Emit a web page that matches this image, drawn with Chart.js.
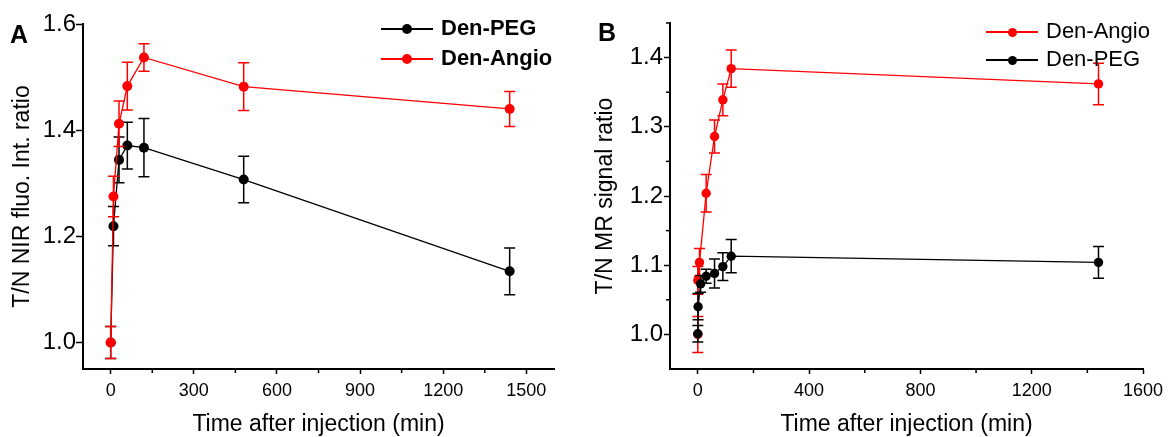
<!DOCTYPE html>
<html>
<head>
<meta charset="utf-8">
<script src="https://cdn.jsdelivr.net/npm/chart.js@4.4.1/dist/chart.umd.min.js"></script>
<style>
  body { margin:0; background:#fff; width:1170px; height:437px; position:relative; overflow:hidden; font-family:"Liberation Sans", Arial, sans-serif; color:#000; }
  canvas { position:absolute; top:0; }
  .panel { position:absolute; font-weight:bold; font-size:25px; line-height:1; }
  .leg { position:absolute; white-space:nowrap; font-size:22px; line-height:1; }
  .leg .ln { position:absolute; height:1.4px; top:-0.7px; }
  .leg .dot { position:absolute; border-radius:50%; }
  .leg .tx { position:absolute; top:-12px; }
</style>
</head>
<body>
<canvas id="chartA" width="585" height="437" style="left:0"></canvas>
<canvas id="chartB" width="585" height="437" style="left:585px"></canvas>
<div class="panel" style="left:10px;top:22px">A</div>
<div class="panel" style="left:598px;top:20px">B</div>
<div id="legA"></div>
<div id="legB"></div>
<script>
// panel A: NIR fluorescence
const timeA = [0, 10, 30, 60, 120, 480, 1440];
const pegA = [1.0, 1.219, 1.344, 1.371, 1.367, 1.307, 1.134];
const pegErrA = [0.03, 0.037, 0.043, 0.044, 0.055, 0.044, 0.044];
const angioA = [1.0, 1.275, 1.412, 1.483, 1.537, 1.482, 1.440];
const angioErrA = [0.03, 0.038, 0.043, 0.045, 0.026, 0.045, 0.033];
const xTicksA = [0, 300, 600, 900, 1200, 1500];
const xMinorA = [150, 450, 750, 1050, 1350];
const yTicksA = [1.0, 1.2, 1.4, 1.6];

// panel B: MR signal
const timePegB = [0, 1, 10, 30, 60, 90, 120, 1440];
const pegB = [1.001, 1.040, 1.073, 1.084, 1.088, 1.098, 1.113, 1.104];
const pegErrB = [0.012, 0.019, 0.012, 0.010, 0.021, 0.020, 0.024, 0.023];
const timeAngioB = [0, 0, 6, 30, 60, 90, 120, 1440];
const angioB = [1.0, 1.078, 1.104, 1.204, 1.286, 1.339, 1.384, 1.362];
const angioErrB = [0.026, 0.02, 0.02, 0.027, 0.024, 0.023, 0.027, 0.03];
const xTicksB = [0, 400, 800, 1200, 1600];
const xMinorB = [200, 600, 1000, 1400];
const yTicksB = [1.0, 1.1, 1.2, 1.3, 1.4];
const yMinorB = [1.05, 1.15, 1.25, 1.35, 1.45];

const RED = '#ff0000', BLACK = '#000000';
const FONT = '"Liberation Sans", Arial, sans-serif';

const pts = (xs, ys) => xs.map((x, i) => ({ x: x, y: ys[i] }));

const errorBars = {
  id: 'errorBars',
  beforeDatasetDraw(chart, args) {
    const ds = chart.data.datasets[args.index];
    if (!ds.err) return;
    const { ctx, scales: { x, y } } = chart;
    ctx.save();
    ctx.strokeStyle = ds.borderColor;
    ctx.lineWidth = 1.5;
    ds.data.forEach((p, i) => {
      const px = x.getPixelForValue(p.x);
      const top = y.getPixelForValue(p.y + ds.err[i]);
      const bot = y.getPixelForValue(p.y - ds.err[i]);
      ctx.beginPath();
      ctx.moveTo(px, top); ctx.lineTo(px, bot);
      ctx.moveTo(px - 5.5, top); ctx.lineTo(px + 5.5, top);
      ctx.moveTo(px - 5.5, bot); ctx.lineTo(px + 5.5, bot);
      ctx.stroke();
    });
    ctx.restore();
  }
};

const minorTicks = {
  id: 'minorTicks',
  afterDraw(chart, args, opts) {
    const { ctx, scales: { x, y } } = chart;
    ctx.save();
    ctx.strokeStyle = '#000';
    ctx.lineWidth = 1.5;
    (opts.x || []).forEach(v => {
      const px = x.getPixelForValue(v);
      ctx.beginPath(); ctx.moveTo(px, y.bottom); ctx.lineTo(px, y.bottom + 4); ctx.stroke();
    });
    (opts.y || []).forEach(v => {
      const py = y.getPixelForValue(v);
      ctx.beginPath(); ctx.moveTo(x.left, py); ctx.lineTo(x.left - 4, py); ctx.stroke();
    });
    ctx.restore();
  }
};

function series(label, color, xs, ys, errs, r) {
  return {
    label, data: pts(xs, ys), err: errs,
    borderColor: color, backgroundColor: color,
    borderWidth: 1.3, tension: 0,
    pointRadius: r, pointHoverRadius: r, pointBorderWidth: 0,
    pointBackgroundColor: color
  };
}

function makeChart(id, datasets, cfg) {
  return new Chart(document.getElementById(id), {
    type: 'line',
    data: { datasets },
    plugins: [errorBars, minorTicks],
    options: {
      responsive: false, animation: false, devicePixelRatio: 1,
      layout: { padding: { left: 0, top: cfg.top, right: cfg.right, bottom: 0 } },
      plugins: {
        legend: { display: false }, tooltip: { enabled: false },
        minorTicks: { x: cfg.xMinor, y: cfg.yMinor }
      },
      scales: {
        x: {
          type: 'linear', min: cfg.xMin, max: cfg.xMax,
          afterBuildTicks: s => { s.ticks = cfg.xTicks.map(v => ({ value: v })); },
          afterFit: s => { s.height = 68; },
          border: { color: '#000', width: 2 },
          grid: { drawOnChartArea: false, tickLength: 5, tickWidth: 1.5, tickColor: '#000' },
          ticks: { color: '#000', font: { family: FONT, size: 18 }, padding: 6, maxRotation: 0, autoSkip: false,
                   callback: v => String(v) },
          title: { display: true, text: 'Time after injection (min)', color: '#000',
                   font: { family: FONT, size: 23, lineHeight: 1.1 }, padding: { top: 0, bottom: 0 } }
        },
        y: {
          type: 'linear', min: cfg.yMin, max: cfg.yMax,
          afterBuildTicks: s => { s.ticks = cfg.yTicks.map(v => ({ value: v })); },
          afterFit: s => { s.width = cfg.yWidth; },
          border: { color: '#000', width: 2 },
          grid: { drawOnChartArea: false, tickLength: cfg.yTick, tickWidth: 1.5, tickColor: '#000' },
          ticks: { color: '#000', font: { family: FONT, size: 24 }, padding: cfg.yPad,
                   callback: v => v.toFixed(1) },
          title: { display: true, text: cfg.yTitle, color: '#000',
                   font: { family: FONT, size: 23, lineHeight: 1.2 }, padding: { top: cfg.titlePad, bottom: 0 } }
        }
      }
    }
  });
}

makeChart('chartA', [
  series('Den-Angio', RED, timeA, angioA, angioErrA, 5),
  series('Den-PEG', BLACK, timeA, pegA, pegErrA, 5)
], {
  top: 24, right: 31, yWidth: 83, yTick: 7, yPad: 0, titlePad: 9,
  xMin: -100, xMax: 1600, yMin: 0.95, yMax: 1.6,
  xTicks: xTicksA, yTicks: yTicksA, xMinor: xMinorA, yMinor: [],
  yTitle: 'T/N NIR fluo. Int. ratio'
});

makeChart('chartB', [
  series('Den-PEG', BLACK, timePegB, pegB, pegErrB, 4.7),
  series('Den-Angio', RED, timeAngioB, angioB, angioErrB, 4.7)
], {
  top: 23, right: 27, yWidth: 85, yTick: 6, yPad: 1, titlePad: 7,
  xMin: -100, xMax: 1600, yMin: 0.95, yMax: 1.45,
  xTicks: xTicksB, yTicks: yTicksB, xMinor: xMinorB, yMinor: yMinorB,
  yTitle: 'T/N MR signal ratio'
});

// html legends
function legend(el, items, o) {
  items.forEach((it, i) => {
    const row = document.createElement('div');
    row.className = 'leg';
    row.style.left = o.x0 + 'px';
    row.style.top = o.ys[i] + 'px';
    if (o.bold) row.style.fontWeight = 'bold';
    row.innerHTML =
      `<span class="ln" style="left:0;width:${o.len}px;background:${it.color}"></span>` +
      `<span class="dot" style="left:${o.len / 2 - o.r}px;top:${-o.r}px;width:${2 * o.r}px;height:${2 * o.r}px;background:${it.color}"></span>` +
      `<span class="tx" style="left:${o.tx}px">${it.name}</span>`;
    el.appendChild(row);
  });
}
legend(document.getElementById('legA'),
  [{ name: 'Den-PEG', color: BLACK }, { name: 'Den-Angio', color: RED }],
  { x0: 381, len: 52, ys: [29, 59], r: 5, tx: 60, bold: true });
legend(document.getElementById('legB'),
  [{ name: 'Den-Angio', color: RED }, { name: 'Den-PEG', color: BLACK }],
  { x0: 986, len: 52, ys: [32, 60], r: 4.5, tx: 60, bold: false });
</script>
</body>
</html>
